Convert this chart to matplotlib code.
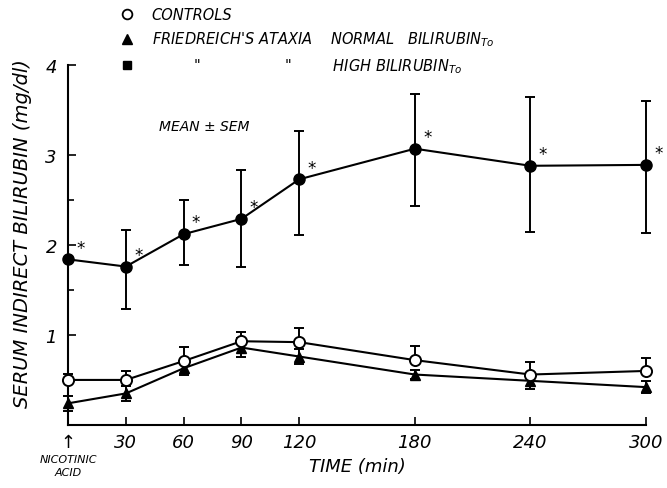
import matplotlib
matplotlib.use("Agg")
import matplotlib.pyplot as plt
from matplotlib.lines import Line2D

plt.rcParams['font.family'] = ['DejaVu Sans']
plt.rcParams['mathtext.default'] = 'it'

# time points (min)
times = [0, 30, 60, 90, 120, 180, 240, 300]
time_labels = ['\u2191', '30', '60', '90', '120', '180', '240', '300']

# controls (open circles), SEM drawn upward only
controls = [0.50, 0.50, 0.71, 0.93, 0.92, 0.72, 0.56, 0.60]
controls_sem = [0.07, 0.10, 0.16, 0.10, 0.16, 0.16, 0.14, 0.14]

# Friedreich's ataxia, normal bilirubin T0 (filled triangles)
fa_normal = [0.24, 0.35, 0.63, 0.86, 0.76, 0.56, 0.49, 0.42]
fa_normal_sem = [0.08, 0.08, 0.07, 0.11, 0.08, 0.05, 0.09, 0.07]

# Friedreich's ataxia, high bilirubin T0 (filled circles)
fa_high = [1.84, 1.76, 2.12, 2.29, 2.73, 3.07, 2.88, 2.89]
fa_high_lo = [1.84, 1.29, 1.78, 1.76, 2.11, 2.43, 2.14, 2.13]
fa_high_hi = [1.84, 2.17, 2.50, 2.83, 3.27, 3.68, 3.64, 3.60]

fig = plt.figure(figsize=(6.67, 4.89), dpi=100)
ax = fig.add_axes([0.102, 0.129, 0.8666, 0.736])

lw = 1.5

# high bilirubin
err_lo = [m - l for m, l in zip(fa_high, fa_high_lo)]
err_hi = [h - m for m, h in zip(fa_high, fa_high_hi)]
ax.errorbar(times, fa_high, yerr=[err_lo, err_hi], fmt='none', ecolor='black',
            elinewidth=1.4, capsize=3.5, capthick=1.4, clip_on=False, zorder=2)
ax.plot(times, fa_high, color='black', lw=lw, marker='o', markersize=8,
        markerfacecolor='black', clip_on=False, zorder=3)
for t, v in zip(times, fa_high):
    ax.annotate('*', xy=(t, v), xytext=(9, 2), textcoords='offset points',
                fontsize=12, ha='center', va='bottom')

# FA normal bilirubin
ax.errorbar(times, fa_normal, yerr=fa_normal_sem, fmt='none', ecolor='black',
            elinewidth=1.4, capsize=3.5, capthick=1.4, clip_on=False, zorder=2)
ax.plot(times, fa_normal, color='black', lw=lw, marker='^', markersize=7,
        markerfacecolor='black', clip_on=False, zorder=3)

# controls
zeros = [0] * len(controls)
ax.errorbar(times, controls, yerr=[zeros, controls_sem], fmt='none', ecolor='black',
            elinewidth=1.4, capsize=3.5, capthick=1.4, clip_on=False, zorder=2)
ax.plot(times, controls, color='black', lw=lw, marker='o', markersize=8,
        markerfacecolor='white', markeredgewidth=1.4, clip_on=False, zorder=4)

ax.set_xlim(0, 300)
ax.set_ylim(0, 4)
ax.spines['top'].set_visible(False)
ax.spines['right'].set_visible(False)
for s in ('left', 'bottom'):
    ax.spines[s].set_linewidth(1.5)

ax.set_xticks(times)
ax.set_xticklabels(time_labels, fontsize=13, fontstyle='italic')
ax.set_yticks([1, 2, 3, 4])
ax.set_yticklabels(['1', '2', '3', '4'], fontsize=13, fontstyle='italic')
ax.set_yticks([1.5, 2.5], minor=True)
ax.tick_params(axis='both', which='major', direction='in', length=6, width=1.2, pad=6)
ax.tick_params(axis='y', which='minor', direction='in', length=4, width=1.2)
ax.tick_params(axis='y', pad=8)

ax.set_ylabel('SERUM INDIRECT BILIRUBIN (mg/dl)', fontsize=14, fontstyle='italic')
ax.yaxis.set_label_coords(-0.063, 0.535)
ax.set_xlabel('TIME (min)', fontsize=13, fontstyle='italic')
ax.xaxis.set_label_coords(0.50, -0.09)

ax.text(0, -0.082, 'NICOTINIC\nACID', transform=ax.get_xaxis_transform(),
        ha='center', va='top', fontsize=8, fontstyle='italic', linespacing=1.35)

ax.text(0.157, 0.83, 'MEAN \u00b1 SEM', transform=ax.transAxes,
        ha='left', va='center', fontsize=10, fontstyle='italic')

handles = [
    Line2D([], [], ls='none', marker='o', markersize=7, color='black',
           markerfacecolor='white', markeredgewidth=1.3),
    Line2D([], [], ls='none', marker='^', markersize=7, color='black'),
    Line2D([], [], ls='none', marker='s', markersize=6, color='black'),
]
labels = [
    'CONTROLS',
    "FRIEDREICH'S ATAXIA    NORMAL   BILIRUBIN$_{To}$",
    ' ' * 9 + '"' + ' ' * 18 + '"' + ' ' * 9 + 'HIGH BILIRUBIN$_{To}$',
]
leg = fig.legend(handles, labels, loc='upper left', bbox_to_anchor=(0.166, 1.002),
                 frameon=False, handlelength=1.0, handletextpad=1.2,
                 labelspacing=0.55, borderpad=0.1,
                 prop={'size': 10.5, 'style': 'italic'})

fig.savefig('out.png', dpi=100)
